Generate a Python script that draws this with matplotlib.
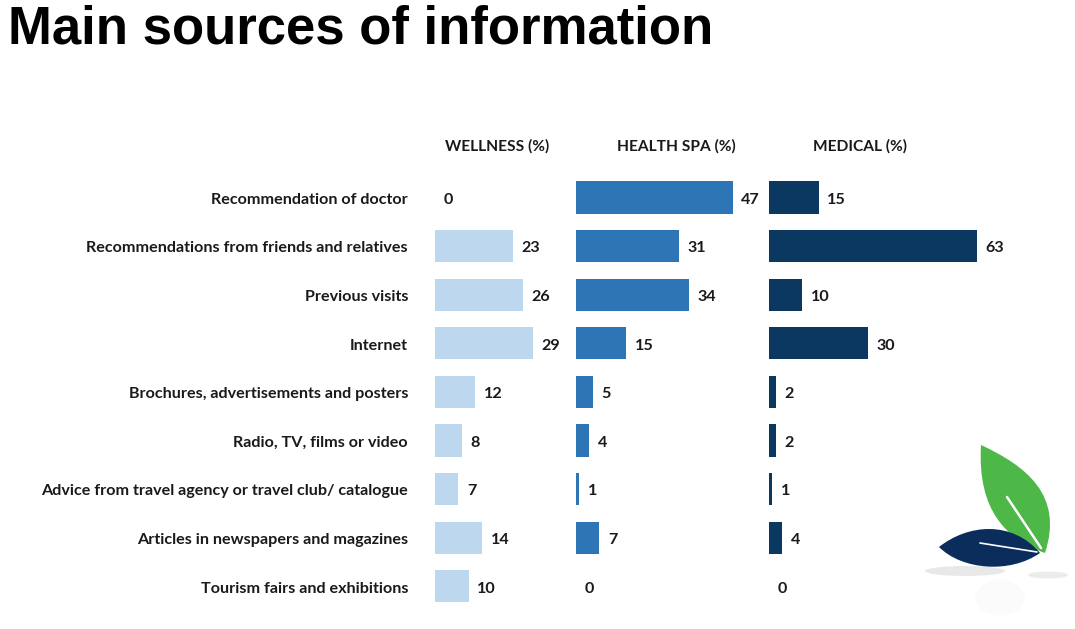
import matplotlib
matplotlib.use("Agg")
import matplotlib.pyplot as plt
from matplotlib.path import Path
from matplotlib.patches import PathPatch, Ellipse
import numpy as np

categories = [
    "Recommendation of doctor",
    "Recommendations from friends and relatives",
    "Previous visits",
    "Internet",
    "Brochures, advertisements and posters",
    "Radio, TV, films or video",
    "Advice from travel agency or travel club/ catalogue",
    "Articles in newspapers and magazines",
    "Tourism fairs and exhibitions",
]
wellness = [0, 23, 26, 29, 12, 8, 7, 14, 10]
health_spa = [47, 31, 34, 15, 5, 4, 1, 7, 0]
medical = [15, 63, 10, 30, 2, 2, 1, 4, 0]
headers = ["WELLNESS (%)", "HEALTH SPA (%)", "MEDICAL (%)"]
title = "Main sources of information"

W, H = 1075, 629
fig = plt.figure(figsize=(W / 100, H / 100), dpi=100)
fig.patch.set_facecolor("white")

LABEL_FONT = ["Lato", "DejaVu Sans"]
FS = 11.6

def px_axes(left, top, width, height):
    return fig.add_axes([left / W, 1 - (top + height) / H, width / W, height / H])

spacing = 48.6
row_top = 197.5 - spacing / 2
row_h = spacing * 9

panels = [
    (wellness, 434.5, 3.40, 40, "#BDD7EE"),
    (health_spa, 576, 3.33, 55, "#2E75B6"),
    (medical, 769, 3.30, 75, "#0A3860"),
]
header_x = [497, 676, 860]

y = np.arange(len(categories))
axes = []
for (vals, left, scale, xmax, color) in panels:
    ax = px_axes(left, row_top, xmax * scale, row_h)
    ax.barh(y, vals, height=0.66, color=color, edgecolor="none")
    ax.set_xlim(0, xmax)
    ax.set_ylim(len(categories) - 0.5, -0.5)
    ax.axis("off")
    for yi, v in zip(y, vals):
        ax.annotate(str(v), xy=(v, yi), xytext=(6.3, -1.6), textcoords="offset points",
                    va="center", ha="left", fontsize=FS, fontweight="bold",
                    family=LABEL_FONT, color="#1a1a1a")
    axes.append(ax)

# category labels
for yi, cat in zip(y, categories):
    axes[0].annotate(cat, xy=(0, yi), xytext=(-19, -1.6), textcoords="offset points",
                     va="center", ha="right", fontsize=FS, fontweight="bold",
                     family=LABEL_FONT, color="#1a1a1a")

for hx, htxt in zip(header_x, headers):
    fig.text(hx / W, 1 - 146 / H, htxt, ha="center", va="center", fontsize=11.2,
             fontweight="bold", family=LABEL_FONT, color="#1a1a1a")

fig.text(8 / W, 1 - 44 / H, title, ha="left", va="baseline", fontsize=38,
         fontweight="bold", family=["Liberation Sans", "DejaVu Sans"], color="black")

# logo
lax = px_axes(920, 430, 155, 199)
lax.set_xlim(920, 1075)
lax.set_ylim(629, 430)
lax.axis("off")
for cx, cy, w, h, a in [(965, 571, 80, 10, 0.22), (1048, 575, 40, 7, 0.18), (1000, 598, 50, 35, 0.04)]:
    lax.add_patch(Ellipse((cx, cy), w, h, color="#9a9a9a", alpha=a, lw=0))
green = Path([(981, 445), (1026, 466), (1064, 495), (1045, 553),
              (1008, 540), (977, 512), (981, 445), (981, 445)],
             [Path.MOVETO, Path.CURVE4, Path.CURVE4, Path.CURVE4,
              Path.CURVE4, Path.CURVE4, Path.CURVE4, Path.CLOSEPOLY])
lax.add_patch(PathPatch(green, facecolor="#4DB848", edgecolor="none"))
lax.plot([1007, 1041], [497, 548], color="white", lw=1.8, solid_capstyle="round")
blue = Path([(939, 547), (968, 524), (1012, 520), (1040, 553),
             (1010, 574), (962, 570), (939, 547), (939, 547)],
            [Path.MOVETO, Path.CURVE4, Path.CURVE4, Path.CURVE4,
             Path.CURVE4, Path.CURVE4, Path.CURVE4, Path.CLOSEPOLY])
lax.add_patch(PathPatch(blue, facecolor="#0B2D5B", edgecolor="none"))
lax.plot([980, 1037], [543, 552], color="white", lw=1.2, solid_capstyle="round")

fig.savefig("out.png", dpi=100)
